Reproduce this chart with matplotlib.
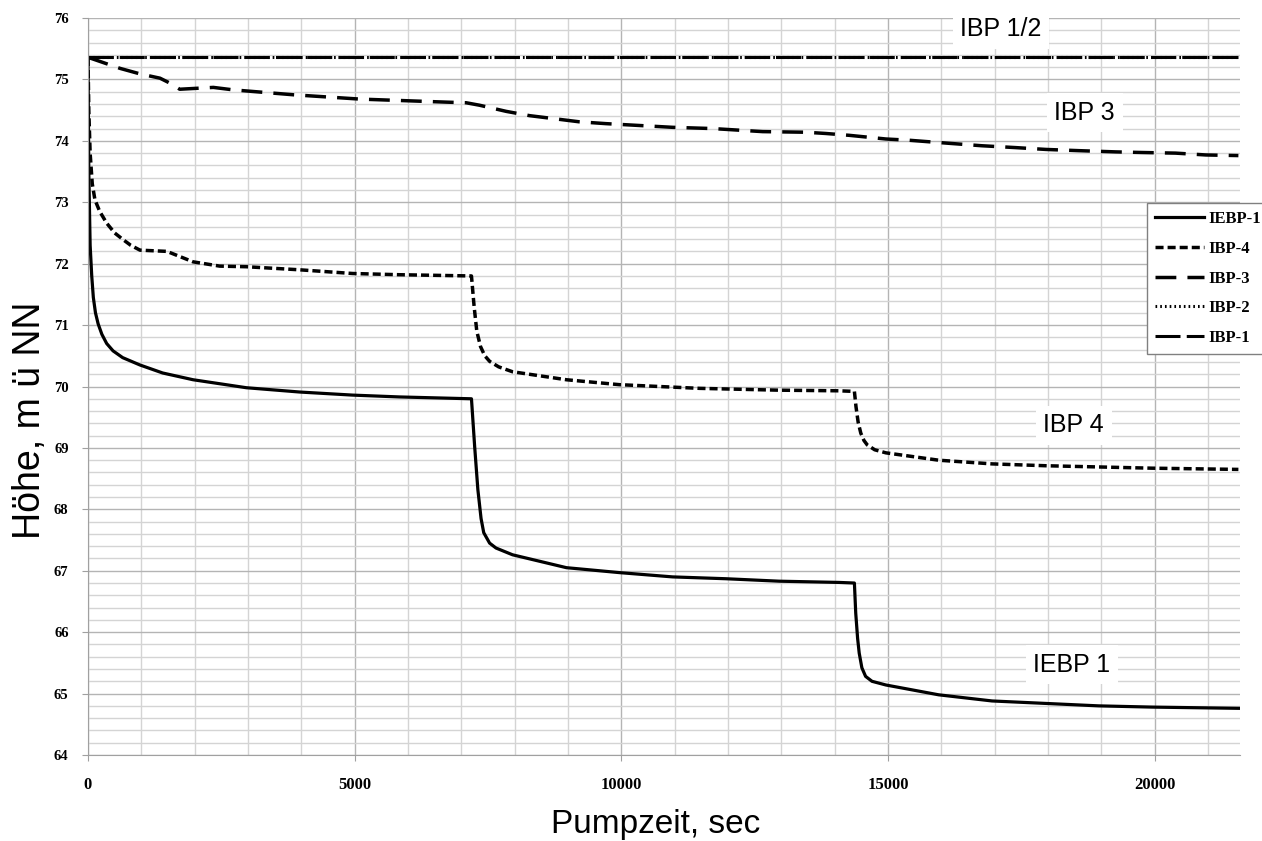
import matplotlib
matplotlib.use("Agg")
import matplotlib.pyplot as plt
from matplotlib.ticker import MultipleLocator

plt.rcParams["lines.scale_dashes"] = False

# Pumpzeit [s] und Wasserstand [m ü NN]
t_iebp1 = [0, 15, 40, 70, 100, 140, 190, 260, 350, 470, 650, 975, 1400, 1970,
           2970, 3970, 4960, 5840, 7190, 7250, 7310, 7370, 7420, 7530, 7650,
           7960, 8970, 9960, 10960, 11960, 12960, 14080, 14370, 14395, 14430,
           14460, 14510, 14580, 14700, 14960, 15950, 16950, 17950, 18950, 19950,
           21570]
h_iebp1 = [75.35, 73.5, 72.3, 71.8, 71.45, 71.2, 71.02, 70.85, 70.7, 70.58,
           70.47, 70.35, 70.22, 70.11, 69.98, 69.91, 69.86, 69.83, 69.80, 69.02,
           68.32, 67.85, 67.62, 67.45, 67.37, 67.26, 67.05, 66.97, 66.90, 66.87,
           66.83, 66.81, 66.80, 66.31, 65.9, 65.66, 65.42, 65.28, 65.20, 65.14,
           64.98, 64.88, 64.84, 64.80, 64.78, 64.76]

t_ibp4 = [0, 15, 40, 80, 130, 220, 350, 500, 660, 800, 975, 1480, 1970, 2470,
          2970, 3970, 4960, 5840, 7190, 7240, 7290, 7360, 7440, 7530, 7700,
          7960, 8970, 9960, 10960, 11460, 12960, 14080, 14370, 14400, 14440,
          14490, 14550, 14610, 14750, 14960, 15950, 16950, 17950, 18950, 19950,
          21570]
h_ibp4 = [75.35, 74.5, 73.8, 73.3, 73.04, 72.85, 72.66, 72.5, 72.39, 72.3,
          72.22, 72.20, 72.03, 71.96, 71.95, 71.90, 71.84, 71.82, 71.80, 71.3,
          70.9, 70.65, 70.5, 70.41, 70.32, 70.24, 70.11, 70.03, 69.99, 69.97,
          69.94, 69.93, 69.92, 69.67, 69.42, 69.24, 69.12, 69.05, 68.97, 68.92,
          68.80, 68.74, 68.71, 68.69, 68.67, 68.65]

t_ibp3 = [0, 600, 975, 1350, 1535, 1720, 2350, 2720, 3850, 5090, 6720, 7090,
          7340, 7840, 8280, 9210, 9710, 10960, 11710, 12650, 13460, 13830, 14270,
          14960, 15390, 16140, 16760, 17390, 17960, 18580, 19270, 19760, 20390,
          20960, 21570]
h_ibp3 = [75.36, 75.18, 75.09, 75.02, 74.94, 74.84, 74.87, 74.83, 74.75, 74.68,
          74.63, 74.62, 74.58, 74.48, 74.41, 74.31, 74.28, 74.22, 74.20, 74.15,
          74.14, 74.12, 74.09, 74.03, 74.01, 73.96, 73.92, 73.89, 73.86, 73.84,
          73.82, 73.81, 73.80, 73.77, 73.76]

t_ibp2 = [0, 21570]
h_ibp2 = [75.36, 75.36]
t_ibp1 = [0, 21570]
h_ibp1 = [75.36, 75.36]

labels = ["IBP 1/2", "IBP 3", "IBP 4", "IEBP 1"]
label_t = [17116, 18689, 18483, 18446]
label_h = [75.82, 74.46, 69.37, 65.47]

fig = plt.figure(figsize=(12.62, 8.41), dpi=100)
ax = fig.add_axes([88 / 1262, 1 - 755 / 841, 1152 / 1262, 737 / 841])

ax.plot(t_iebp1, h_iebp1, color="black", lw=2.3, ls="-", label="IEBP-1")
ax.plot(t_ibp4, h_ibp4, color="black", lw=2.5, ls=(0, (5.8, 2.9)), label="IBP-4")
ax.plot(t_ibp3, h_ibp3, color="black", lw=2.5, ls=(0, (15, 8)), label="IBP-3")
ax.plot(t_ibp2, h_ibp2, color="black", lw=2.2, ls=(0, (1.2, 2.2)), label="IBP-2")
ax.plot(t_ibp1, h_ibp1, color="black", lw=2.2, ls=(0, (18, 4.5)), label="IBP-1")

ax.set_xlim(0, 21600)
ax.set_ylim(64, 76)
ax.xaxis.set_major_locator(MultipleLocator(5000))
ax.xaxis.set_minor_locator(MultipleLocator(1000))
ax.yaxis.set_major_locator(MultipleLocator(1))
ax.yaxis.set_minor_locator(MultipleLocator(0.2))
ax.grid(which="major", color="#b4b4b4", lw=1.0)
ax.grid(which="minor", color="#d4d4d4", lw=1.0)
ax.set_axisbelow(True)

for s in ["top", "right"]:
    ax.spines[s].set_visible(False)
for s in ["left", "bottom"]:
    ax.spines[s].set_color("#a0a0a0")

ax.tick_params(which="minor", length=0)
ax.tick_params(axis="x", which="major", length=4, color="#a0a0a0", pad=12)
ax.tick_params(axis="y", which="major", length=4, color="#a0a0a0", pad=10)
for lab in ax.get_xticklabels():
    lab.set_fontfamily("Liberation Serif")
    lab.set_fontweight("bold")
    lab.set_fontsize(12)
for lab in ax.get_yticklabels():
    lab.set_fontfamily("Liberation Serif")
    lab.set_fontweight("bold")
    lab.set_fontsize(10.5)

for txt, tx, ty in zip(labels, label_t, label_h):
    ax.text(tx, ty, txt, fontsize=18, family="Liberation Sans",
            ha="center", va="center",
            bbox=dict(boxstyle="square,pad=0.3", fc="white", ec="none"))

fig.text(656 / 1262, 1 - 825 / 841, "Pumpzeit, sec", fontsize=24,
         family="Liberation Sans", ha="center", va="center")
fig.text(30 / 1262, 1 - 420 / 841, "Höhe, m ü NN", fontsize=27,
         family="Liberation Sans", ha="center", va="center", rotation=90)

leg = ax.legend(loc="upper left", bbox_to_anchor=(0.9193, 0.749),
                borderaxespad=0, fancybox=False, framealpha=1,
                edgecolor="#808080", handlelength=2.9, handletextpad=0.3,
                labelspacing=0.82, borderpad=0.5,
                prop={"family": "Liberation Serif", "weight": "bold", "size": 12})
leg.get_frame().set_linewidth(1.0)

fig.savefig("out.png", dpi=100)
